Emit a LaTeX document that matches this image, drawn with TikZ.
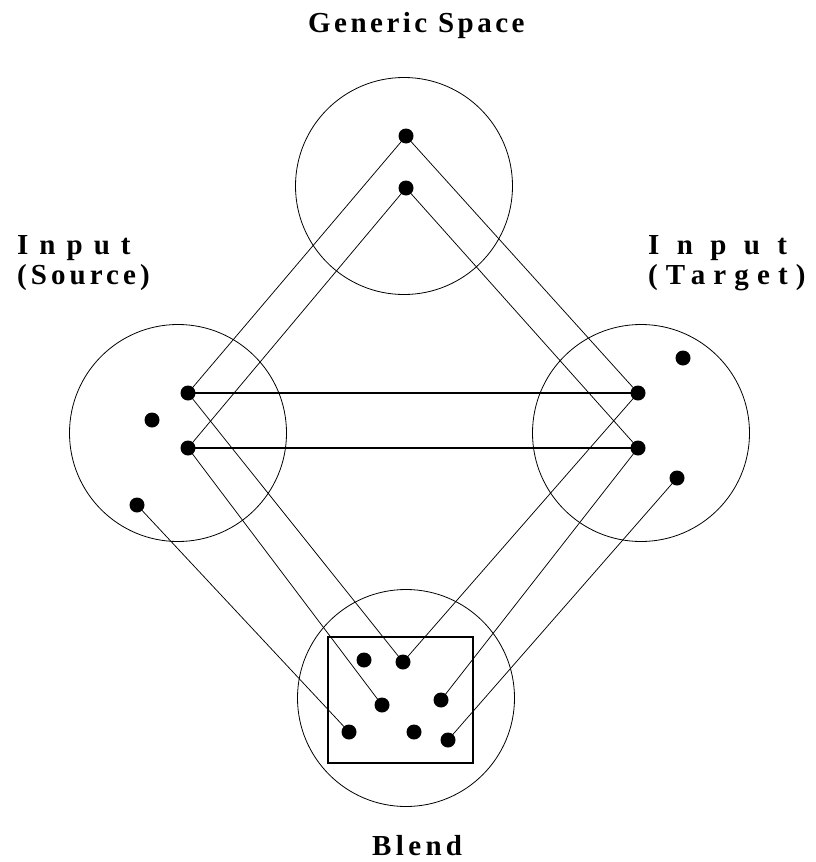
\documentclass[tikz,border=0pt]{standalone}
\usepackage{fontspec}
\setmainfont{Liberation Serif}
\begin{document}
\begin{tikzpicture}[x=1pt,y=-1pt,
  space/.style={circle, draw, line width=0.8pt, minimum size=217pt, inner sep=0pt},
  dot/.style={circle, fill, inner sep=0pt, minimum size=15pt},
  link/.style={line width=0.75pt},
  bar/.style={line width=1.3pt},
  lbl/.style={inner sep=0pt, anchor=base west,
    font=\bfseries\fontsize{29}{29}\selectfont\addfontfeature{LetterSpace=#1}}]
\useasboundingbox (0,0) rectangle (816,862);

% the four mental spaces
\node[space] (gen) at (404,186) {};
\node[space] (src) at (178,433) {};
\node[space] (tgt) at (641,433) {};
\node[space] (bln) at (406,698) {};
\draw[bar] (328,637) rectangle (473,763);

% elements
\node[dot] (g1) at (406,136) {};
\node[dot] (g2) at (406,188) {};
\node[dot] (l1) at (188,393) {};
\node[dot] (l2) at (188,448) {};
\node[dot] (l3) at (152,420) {};
\node[dot] (l4) at (137,505) {};
\node[dot] (r1) at (638,393) {};
\node[dot] (r2) at (638,448) {};
\node[dot] (r3) at (683,358) {};
\node[dot] (r4) at (677,478) {};
\node[dot] (b1) at (364,660) {};
\node[dot] (b2) at (403,662) {};
\node[dot] (b3) at (382,705) {};
\node[dot] (b4) at (441,700) {};
\node[dot] (b5) at (349,732) {};
\node[dot] (b6) at (414,732) {};
\node[dot] (b7) at (448,740) {};

% cross-space mappings
\draw[link] (g1.center) -- (l1.center);
\draw[link] (g1.center) -- (r1.center);
\draw[link] (g2.center) -- (l2.center);
\draw[link] (g2.center) -- (r2.center);
\draw[bar] (l1.center) -- (r1.center);
\draw[bar] (l2.center) -- (r2.center);
\draw[link] (l1.center) -- (b2.center);
\draw[link] (l2.center) -- (b3.center);
\draw[link] (l4.center) -- (b5.center);
\draw[link] (r1.center) -- (b2.center);
\draw[link] (r2.center) -- (b4.center);
\draw[link] (r4.center) -- (b7.center);

% labels
\node[lbl=12] (tgen) at (308,32) {Generic Space};
\node[lbl=13] (tin1) at (17,254) {I n p u t};
\node[lbl=14] (tsrc) at (17,284) {(Source)};
\node[lbl=35] (tin2) at (648,254) {I n p u t};
\node[lbl=28] (ttgt) at (648,284) {(Target)};
\node[lbl=15] (tbln) at (372,855) {Blend};
\end{tikzpicture}
\end{document}
